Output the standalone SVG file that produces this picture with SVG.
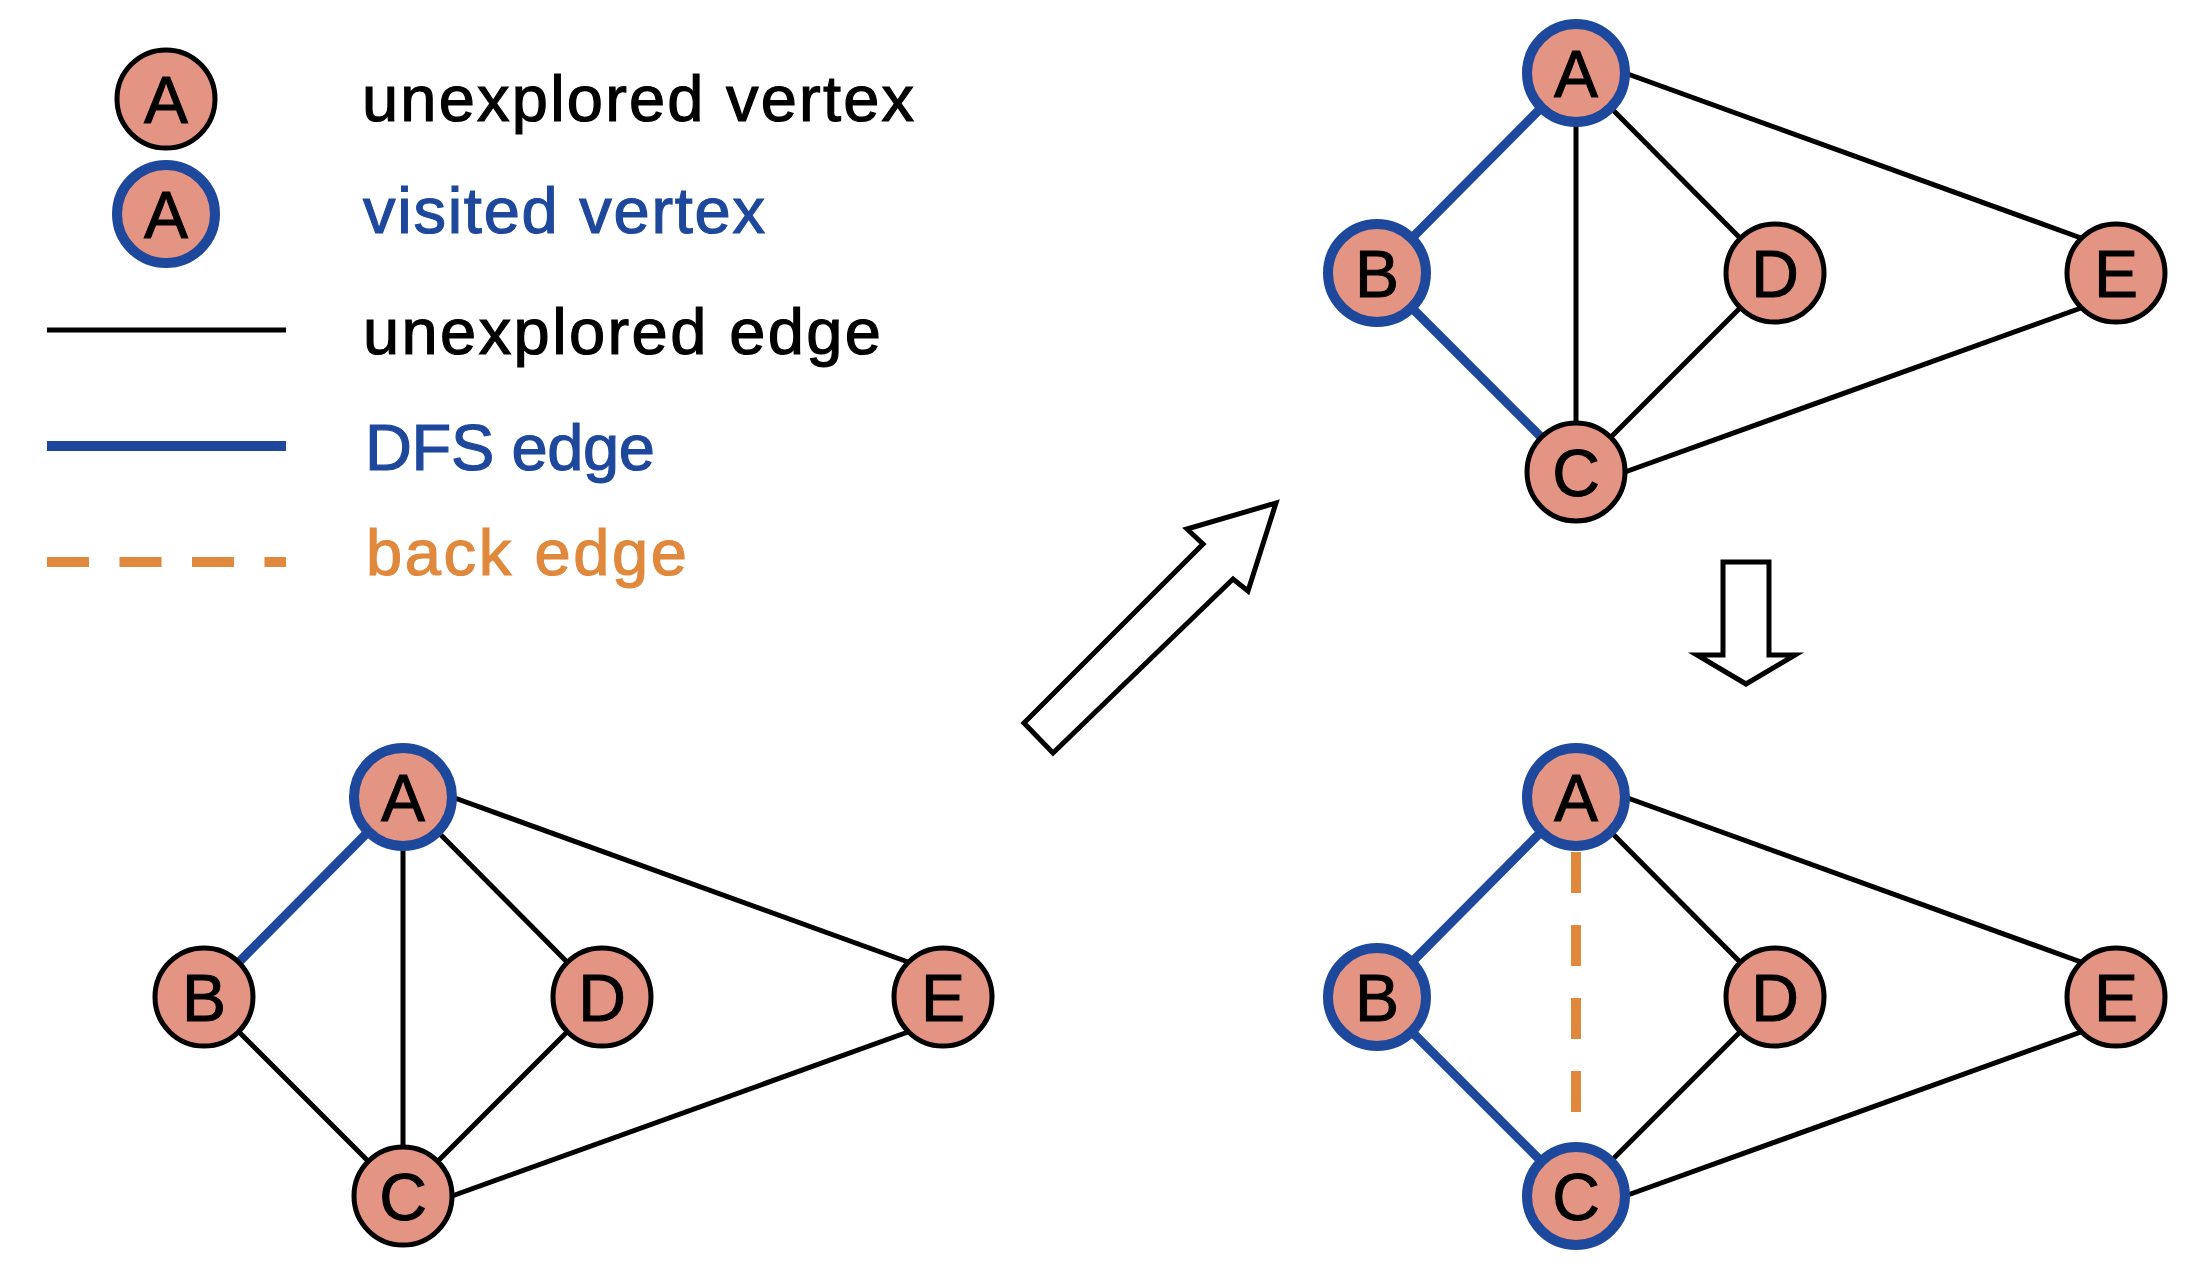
<svg xmlns="http://www.w3.org/2000/svg" width="2196" height="1280" viewBox="0 0 2196 1280">
<style>
.lbl{font-family:"Liberation Sans",Arial,sans-serif;font-size:65px;stroke-width:1.2px}
.nl{font-family:"Liberation Sans",Arial,sans-serif;font-size:66px;text-anchor:middle;fill:#000;stroke:#000;stroke-width:1px}
.un{fill:#E39482;stroke:#000;stroke-width:5}
.vi{fill:#E39482;stroke:#1E489C;stroke-width:10}
.e{stroke:#000;stroke-width:5;fill:none}
.dfs{stroke:#1E489C;stroke-width:9;fill:none}
.back{stroke:#E0883C;stroke-width:10;fill:none}
.arr{fill:#fff;stroke:#000;stroke-width:5;stroke-linejoin:miter}
</style>
<rect width="2196" height="1280" fill="#fff"/>
<g id="legend">
  <g id="legend-unexplored-vertex"><circle class="un" cx="166" cy="99" r="49"/><text class="nl" x="166" y="123">A</text></g>
  <g id="legend-visited-vertex"><circle class="vi" cx="166" cy="214" r="49"/><text class="nl" x="166" y="238">A</text></g>
  <line class="e" x1="47" y1="330" x2="286" y2="330"/>
  <line x1="47" y1="446" x2="286" y2="446" stroke="#1E489C" stroke-width="10"/>
  <line class="back" x1="47" y1="562" x2="286" y2="562" stroke-dasharray="42 30.5"/>
  <text class="lbl" x="362" y="121" fill="#000" stroke="#000" textLength="552" lengthAdjust="spacing">unexplored vertex</text>
  <text class="lbl" x="363" y="233" fill="#1E489C" stroke="#1E489C" textLength="402" lengthAdjust="spacing">visited vertex</text>
  <text class="lbl" x="363" y="354" fill="#000" stroke="#000" textLength="518" lengthAdjust="spacing">unexplored edge</text>
  <text class="lbl" x="365" y="470" fill="#1E489C" stroke="#1E489C" textLength="290" lengthAdjust="spacing">DFS edge</text>
  <text class="lbl" x="366" y="575" fill="#E0883C" stroke="#E0883C" textLength="321" lengthAdjust="spacing">back edge</text>
</g>
<g id="connectors">
  <g id="edges-g1">
    <line class="dfs" x1="368" y1="832" x2="239" y2="962"/>
    <line class="e" x1="403" y1="846" x2="403" y2="1147"/>
    <line class="e" x1="438" y1="832" x2="567" y2="962"/>
    <line class="e" x1="452" y1="797" x2="908" y2="962"/>
    <line class="e" x1="239" y1="1032" x2="368" y2="1161"/>
    <line class="e" x1="438" y1="1161" x2="567" y2="1032"/>
    <line class="e" x1="452" y1="1196" x2="908" y2="1032"/>
  </g>
  <g id="edges-g2" transform="translate(1173,-724)">
    <line class="dfs" x1="368" y1="832" x2="239" y2="962"/>
    <line class="e" x1="403" y1="846" x2="403" y2="1147"/>
    <line class="e" x1="438" y1="832" x2="567" y2="962"/>
    <line class="e" x1="452" y1="797" x2="908" y2="962"/>
    <line class="dfs" x1="239" y1="1032" x2="368" y2="1161"/>
    <line class="e" x1="438" y1="1161" x2="567" y2="1032"/>
    <line class="e" x1="452" y1="1196" x2="908" y2="1032"/>
  </g>
  <g id="edges-g3" transform="translate(1173,0)">
    <line class="dfs" x1="368" y1="832" x2="239" y2="962"/>
    <line class="back" x1="403" y1="852" x2="403" y2="1113" stroke-dasharray="41 32"/>
    <line class="e" x1="438" y1="832" x2="567" y2="962"/>
    <line class="e" x1="452" y1="797" x2="908" y2="962"/>
    <line class="dfs" x1="239" y1="1032" x2="368" y2="1161"/>
    <line class="e" x1="438" y1="1161" x2="567" y2="1032"/>
    <line class="e" x1="452" y1="1196" x2="908" y2="1032"/>
  </g>
  <polygon id="arrow-up" class="arr" points="1024,723 1053,753 1233,579 1248,591 1276,503 1187,529 1203,544"/>
  <polygon id="arrow-down" class="arr" points="1723,562 1769,562 1769,655 1795,655 1746,684 1697,655 1723,655"/>
</g>
<g id="graph1">
  <g id="g1-A"><circle class="vi" cx="403" cy="797" r="49"/><text class="nl" x="403" y="821">A</text></g>
  <g id="g1-B"><circle class="un" cx="204" cy="997" r="49"/><text class="nl" x="204" y="1021">B</text></g>
  <g id="g1-C"><circle class="un" cx="403" cy="1196" r="49"/><text class="nl" x="403" y="1220">C</text></g>
  <g id="g1-D"><circle class="un" cx="602" cy="997" r="49"/><text class="nl" x="602" y="1021">D</text></g>
  <g id="g1-E"><circle class="un" cx="943" cy="997" r="49"/><text class="nl" x="943" y="1021">E</text></g>
</g>
<g id="graph2">
  <g id="g2-A"><circle class="vi" cx="1576" cy="73" r="49"/><text class="nl" x="1576" y="97">A</text></g>
  <g id="g2-B"><circle class="vi" cx="1377" cy="273" r="49"/><text class="nl" x="1377" y="297">B</text></g>
  <g id="g2-C"><circle class="un" cx="1576" cy="472" r="49"/><text class="nl" x="1576" y="496">C</text></g>
  <g id="g2-D"><circle class="un" cx="1775" cy="273" r="49"/><text class="nl" x="1775" y="297">D</text></g>
  <g id="g2-E"><circle class="un" cx="2116" cy="273" r="49"/><text class="nl" x="2116" y="297">E</text></g>
</g>
<g id="graph3">
  <g id="g3-A"><circle class="vi" cx="1576" cy="797" r="49"/><text class="nl" x="1576" y="821">A</text></g>
  <g id="g3-B"><circle class="vi" cx="1377" cy="997" r="49"/><text class="nl" x="1377" y="1021">B</text></g>
  <g id="g3-C"><circle class="vi" cx="1576" cy="1196" r="49"/><text class="nl" x="1576" y="1220">C</text></g>
  <g id="g3-D"><circle class="un" cx="1775" cy="997" r="49"/><text class="nl" x="1775" y="1021">D</text></g>
  <g id="g3-E"><circle class="un" cx="2116" cy="997" r="49"/><text class="nl" x="2116" y="1021">E</text></g>
</g>
</svg>
